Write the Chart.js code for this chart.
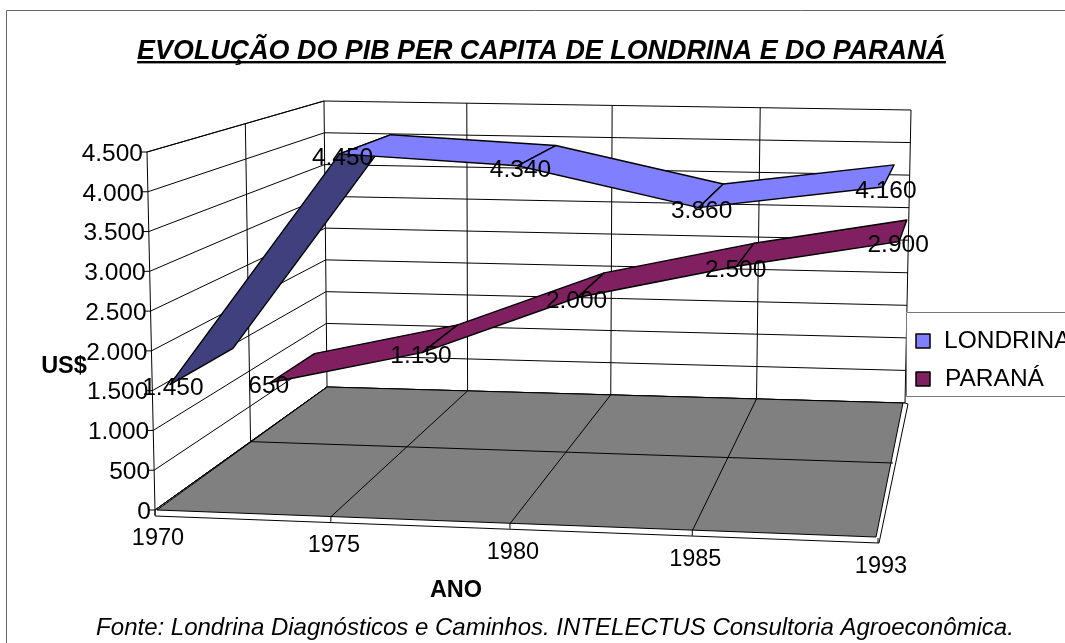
<!DOCTYPE html>
<html lang="pt">
<head>
<meta charset="utf-8">
<style>html,body{margin:0;padding:0;background:#fff}canvas{display:block}</style>
<script src="https://cdn.jsdelivr.net/npm/chart.js@4"></script>
</head>
<body>
<canvas id="c" width="1065" height="643"></canvas>
<script>
const categories = ['1970', '1975', '1980', '1985', '1993'];
const londrina = [1450, 4450, 4340, 3860, 4160];
const parana = [650, 1150, 2000, 2500, 2900];
const TITLE = 'EVOLUÇÃO DO PIB PER CAPITA DE LONDRINA E DO PARANÁ';
const FOOTNOTE = 'Fonte: Londrina Diagnósticos e Caminhos. INTELECTUS Consultoria Agroeconômica.';
const Y_TITLE = 'US$';
const X_TITLE = 'ANO';

const FONT = '"Liberation Sans", Arial, sans-serif';
const BOX = {
  F0:[155,510], FT0:[147,152], B0:[327,387], BT0:[324,101],
  F1:[878,538], FT1:[880,165], B1:[905,403], BT1:[911,110]
};
const Q = 1.037, R = 0.8;
const DEPTH = [[0.082,0.409],[0.62,0.914]];
const LABEL_DX = [3,-1];
function lerp(a,b,t){return [a[0]+(b[0]-a[0])*t, a[1]+(b[1]-a[1])*t];}
function project(u,v,w){
  const s = u/(u+(1-u)*Q), t = w/(w+(1-w)*R);
  const f0 = lerp(BOX.F0,BOX.FT0,v), f1 = lerp(BOX.F1,BOX.FT1,v);
  const b0 = lerp(BOX.B0,BOX.BT0,v), b1 = lerp(BOX.B1,BOX.BT1,v);
  return lerp(lerp(f0,f1,s), lerp(b0,b1,s), t);
}
function darken(hex){
  const n=parseInt(hex.slice(1),16);
  return `rgb(${(n>>16&255)>>1},${(n>>8&255)>>1},${(n&255)>>1})`;
}
function fmt(n){return String(n).replace(/\B(?=(\d{3})+$)/g,'.');}

const scene = {
  id:'scene',
  afterDatasetsDraw(chart){
    const {ctx, scales:{x,y}} = chart;
    const U = i => (x.getPixelForValue(i)-x.left)/x.width;
    const V = val => (y.bottom-y.getPixelForValue(val))/y.height;
    const seg = (a,b) => {ctx.beginPath();ctx.moveTo(a[0],a[1]);ctx.lineTo(b[0],b[1]);ctx.stroke();};
    const poly = pts => {ctx.beginPath();pts.forEach((p,i)=>i?ctx.lineTo(p[0],p[1]):ctx.moveTo(p[0],p[1]));ctx.closePath();};
    ctx.save();
    ctx.lineJoin='round';
    // outer chart frame
    ctx.strokeStyle='#666';ctx.lineWidth=1;
    ctx.beginPath();ctx.moveTo(6.5,643);ctx.lineTo(6.5,10.5);ctx.lineTo(1065,10.5);ctx.stroke();

    // walls
    ctx.strokeStyle='#000';ctx.lineWidth=1;
    y.ticks.forEach(t=>{
      const v=V(t.value);
      seg(project(0,v,0),project(0,v,1));
      seg(project(0,v,1),project(1,v,1));
      const p=project(0,v,0);
      seg([p[0]-6,p[1]],p);
    });
    categories.forEach((c,i)=>seg(project(U(i),0,1),project(U(i),1,1)));
    seg(project(0,0,.5),project(0,1,.5));
    seg(project(0,0,0),project(0,1,0));
    seg(project(0,1,0),project(0,1,1));

    // floor slab and top
    const F0=project(0,0,0),F1=project(1,0,0),B0=project(0,0,1),B1=project(1,0,1);
    poly([F0,[F0[0],F0[1]+6],[F1[0]+1,F1[1]+5],[B1[0]+3,B1[1]+1],B1,B0]);
    ctx.fillStyle='#fff';ctx.fill();ctx.stroke();
    poly([[F0[0]+2,F0[1]],[F1[0]-2,F1[1]-1],[B1[0]-2,B1[1]],B0]);
    ctx.fillStyle='#808080';ctx.fill();ctx.stroke();
    seg(F0,B0);
    seg(project(0,0,.5),project(1,0,.5));
    categories.forEach((c,i)=>{
      const a=project(U(i),0,0);
      if(i>0&&i<categories.length-1) seg(a,project(U(i),0,1));
      seg(a,[a[0],a[1]+5]);
    });

    // series ribbons: far series first, near series last
    const sets=chart.data.datasets;
    for(let k=sets.length-1;k>=0;k--){
      const ds=sets[k],[w0,w1]=DEPTH[k];
      ctx.lineWidth=1.4;ctx.strokeStyle='#000';
      for(let i=0;i<ds.data.length-1;i++){
        const a0=project(U(i),V(ds.data[i]),w0),a1=project(U(i),V(ds.data[i]),w1);
        const b0=project(U(i+1),V(ds.data[i+1]),w0),b1=project(U(i+1),V(ds.data[i+1]),w1);
        const cross=(a1[0]-a0[0])*(b0[1]-a0[1])-(a1[1]-a0[1])*(b0[0]-a0[0]);
        poly([a0,b0,b1,a1]);
        ctx.fillStyle=cross<0?darken(ds.backgroundColor):ds.backgroundColor;
        ctx.fill();ctx.stroke();
      }
    }

    // text
    ctx.fillStyle='#000';
    ctx.font='24.5px '+FONT;ctx.textBaseline='middle';
    ctx.textAlign='right';
    y.ticks.forEach(t=>{
      const p=project(0,V(t.value),0);
      ctx.fillText(fmt(t.value),p[0]-4,p[1]+2);
    });
    ctx.textAlign='center';
    sets.forEach((ds,k)=>ds.data.forEach((val,i)=>{
      const p=project(U(i),V(val),DEPTH[k][0]);
      ctx.fillText(fmt(val),p[0]+LABEL_DX[k],p[1]+4);
    }));
    ctx.font='23.5px '+FONT;
    categories.forEach((c,i)=>{
      const p=project(U(i),0,0);
      ctx.fillText(c,p[0]+3,p[1]+29);
    });

    ctx.font='bold 23.5px '+FONT;
    ctx.fillText(Y_TITLE,64,367);
    ctx.fillText(X_TITLE,456,591);
    ctx.font='italic 24px '+FONT;
    ctx.fillText(FOOTNOTE,555,628);

    // title underline
    const tb=chart.titleBlock;
    ctx.font='italic bold 26.9px '+FONT;
    const tw=ctx.measureText(TITLE).width, tc=tb.left+tb.width/2;
    ctx.fillRect(tc-tw/2,61,tw,2.4);

    // legend
    ctx.fillStyle='#fff';ctx.fillRect(906,312,160,85);
    ctx.strokeStyle='#777';ctx.lineWidth=1;
    ctx.beginPath();ctx.moveTo(1066,312.5);ctx.lineTo(906.5,312.5);ctx.lineTo(906.5,396.5);ctx.lineTo(1066,396.5);ctx.stroke();
    ctx.font='24.5px '+FONT;ctx.textAlign='left';
    const ly=[341,379],lx=[944,945];
    sets.forEach((ds,i)=>{
      ctx.fillStyle=ds.backgroundColor;ctx.strokeStyle='#000';ctx.lineWidth=1.5;
      ctx.fillRect(916,ly[i]-7,14,14);ctx.strokeRect(916,ly[i]-7,14,14);
      ctx.fillStyle='#000';
      ctx.fillText(ds.label,lx[i],ly[i]);
    });
    ctx.restore();
  }
};

new Chart(document.getElementById('c'),{
  type:'line',
  data:{labels:categories,datasets:[
    {label:'LONDRINA',data:londrina,backgroundColor:'#8080ff',borderColor:'#8080ff',showLine:false,pointRadius:0},
    {label:'PARANÁ',data:parana,backgroundColor:'#802060',borderColor:'#802060',showLine:false,pointRadius:0}
  ]},
  plugins:[scene],
  options:{
    responsive:false,animation:false,
    layout:{padding:{left:18}},
    plugins:{
      legend:{display:false},tooltip:{enabled:false},
      title:{display:true,text:TITLE,fullSize:false,color:'#000',
        font:{family:FONT,size:26.9,style:'italic',weight:'bold'},padding:{top:35,bottom:10}}
    },
    scales:{
      x:{display:false},
      y:{display:false,min:0,max:4500,ticks:{stepSize:500}}
    }
  }
});
</script>
</body>
</html>
